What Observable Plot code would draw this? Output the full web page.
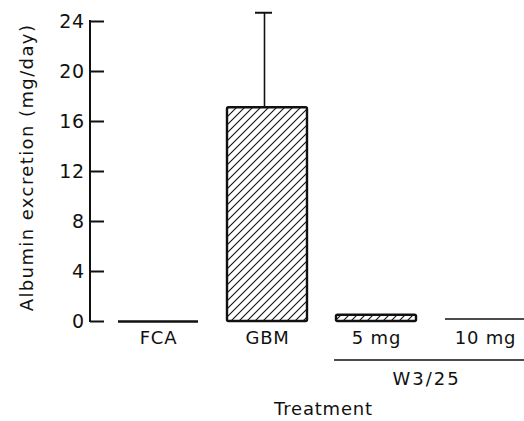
<!DOCTYPE html>
<html><head><meta charset="utf-8">
<script src="https://cdn.jsdelivr.net/npm/d3@7"></script>
<script src="https://cdn.jsdelivr.net/npm/@observablehq/plot@0.6"></script>
<style>
body{margin:0;background:#fff}
</style>
</head><body><div id="chart"></div>
<script>
// ---- data ----
const categories = ["FCA", "GBM", "5 mg", "10 mg"];
const albumin = [0, 17.1, 0.5, 0.2];          // mg/day (bar heights)
const errorUpper = [null, 24.7, null, null];  // top of error bar
const hatchedCategories = ["GBM", "5 mg"];
const yTicks = [0, 4, 8, 12, 16, 20, 24];
const groupLabel = "W3/25";
const groupMembers = ["5 mg", "10 mg"];
const xLabel = "Treatment";
const yLabel = "Albumin excretion (mg/day)";

const rows = categories.map((c, i) => ({cat: c, value: albumin[i], err: errorUpper[i]}));
const barRows = rows.filter(d => hatchedCategories.includes(d.cat));
const flatRows = rows.filter(d => !hatchedCategories.includes(d.cat));
const errRows = rows.filter(d => d.err != null);

const ink = "#111";
const font = "DejaVu Sans";

const defsMark = () => {
  const defs = d3.create("svg:defs");
  const p = defs.append("pattern")
    .attr("id", "hatch").attr("patternUnits", "userSpaceOnUse")
    .attr("width", 8).attr("height", 8);
  p.append("path").attr("d", "M-2,2 l4,-4 M0,8 l8,-8 M6,10 l4,-4")
    .attr("stroke", ink).attr("stroke-width", 1.1).attr("fill", "none");
  return defs.node();
};

const annotationMark = (index, scales, values, dim) => {
  const g = d3.create("svg:g").attr("font-family", font).attr("fill", ink);
  const x = scales.x, bw = x.bandwidth();
  const x1 = x(groupMembers[0]) - 2;
  const x2 = x(groupMembers[groupMembers.length - 1]) + bw;
  const yBase = dim.height - dim.marginBottom;
  g.append("line").attr("x1", x1).attr("x2", x2)
    .attr("y1", yBase + 39).attr("y2", yBase + 39)
    .attr("stroke", ink).attr("stroke-width", 1.6);
  const cx = (x(groupMembers[0]) + bw / 2 + x(groupMembers[groupMembers.length - 1]) + bw / 2) / 2 - 4;
  g.append("text").attr("x", cx).attr("y", yBase + 64)
    .attr("text-anchor", "middle").attr("font-size", 18)
    .attr("letter-spacing", "2px").text(groupLabel);
  const r = x.range();
  g.append("text").attr("x", (r[0] + r[1]) / 2 + 2).attr("y", yBase + 94)
    .attr("text-anchor", "middle").attr("font-size", 18)
    .attr("letter-spacing", "0.8px").text(xLabel);
  // y axis line
  g.append("line").attr("x1", dim.marginLeft).attr("x2", dim.marginLeft)
    .attr("y1", scales.y(yTicks[0]) + 1).attr("y2", scales.y(yTicks[yTicks.length - 1]) - 1)
    .attr("stroke", ink).attr("stroke-width", 2);
  return g.node();
};

const chart = Plot.plot({
  width: 524,
  height: 421,
  marginLeft: 90,
  marginRight: 0,
  marginTop: 21,
  marginBottom: 100,
  style: {fontFamily: font, fontSize: "18px", color: ink, background: "#fff"},
  x: {domain: categories, range: [90, 553], paddingInner: 0.268, paddingOuter: 0.252, align: 0.5},
  y: {domain: [0, 24]},
  marks: [
    defsMark,
    Plot.barY(barRows, {x: "cat", y: "value", fill: "url(#hatch)", stroke: ink, strokeWidth: 2.4, rx: 1.5}),
    Plot.tickY(flatRows, {x: "cat", y: "value", stroke: ink, strokeWidth: d => d.value === 0 ? 2.6 : 1.6}),
    Plot.ruleX(errRows, {x: "cat", y1: "value", y2: "err", stroke: ink, strokeWidth: 1.6, dx: -3}),
    Plot.tickY(errRows, {x: "cat", y: "err", stroke: ink, strokeWidth: 2, insetLeft: 28, insetRight: 35}),
    Plot.axisY({ticks: yTicks, tickSize: -14, tickPadding: 19.5, strokeWidth: 2, label: null, fontSize: 19, tickFormat: d => String(d)}),
    Plot.axisX({tickSize: 0, tickPadding: 10, label: null, fontSize: 18}),
    Plot.text([yLabel], {frameAnchor: "left", textAnchor: "middle", rotate: -90, dx: -63, dy: -4, fontSize: 18, fill: ink}),
    annotationMark
  ]
});

d3.select(chart).selectAll("text").filter(function(){ return this.textContent === yLabel; })
  .attr("letter-spacing", "1.4px");
d3.select(chart).selectAll("g[aria-label='x-axis tick label'] text, g[aria-label='y-axis tick label'] text")
  .attr("letter-spacing", "0.8px");
document.getElementById("chart").appendChild(chart);
</script>
</body></html>
